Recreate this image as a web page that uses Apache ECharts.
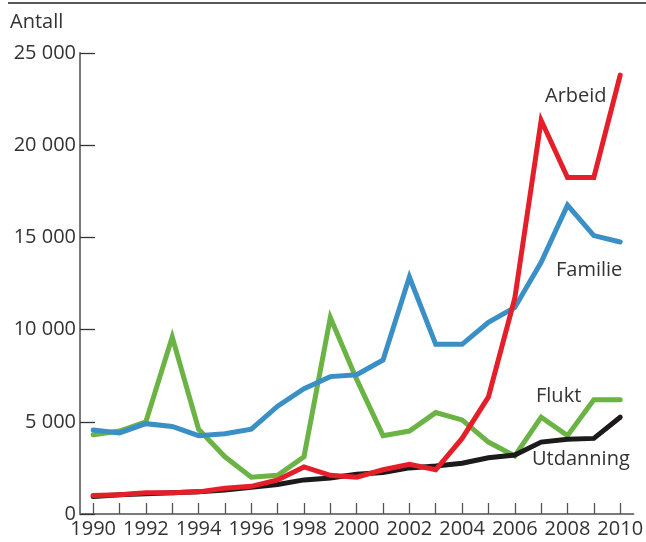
<!DOCTYPE html>
<html>
<head>
<meta charset="utf-8">
<script src="https://cdn.jsdelivr.net/npm/echarts@6/dist/echarts.min.js"></script>
<style>html,body{margin:0;padding:0;background:#fff}#c{width:646px;height:542px}</style>
</head>
<body>
<div id="c"></div>
<script>
var years = ['1990','1991','1992','1993','1994','1995','1996','1997','1998','1999','2000','2001','2002','2003','2004','2005','2006','2007','2008','2009','2010'];
var arbeid    = [1000,1050,1150,1150,1200,1400,1500,1850,2550,2100,2000,2400,2700,2400,4100,6350,11700,21350,18250,18250,23800];
var familie   = [4550,4400,4900,4750,4250,4350,4600,5850,6800,7450,7550,8350,12850,9200,9200,10400,11200,13650,16750,15100,14750];
var flukt     = [4300,4500,5000,9600,4600,3100,2000,2100,3100,10650,7300,4250,4500,5500,5100,3900,3150,5250,4250,6200,6200];
var utdanning = [950,1050,1100,1150,1200,1300,1450,1600,1850,1950,2150,2250,2500,2600,2750,3050,3200,3900,4050,4100,5250];
var yTicks = [0,5000,10000,15000,20000,25000];

var FONT = 'Open Sans';
var FS = 20;
var chart = echarts.init(document.getElementById('c'), null, {renderer:'canvas'});
function fmt(v){ return v === 0 ? '0' : String(v).replace(/\B(?=(\d{3})+(?!\d))/g, ' '); }
function line(name, data, color){
  return {name:name, type:'line', data:data, symbol:'none', smooth:false,
    lineStyle:{color:color, width:5, cap:'round', join:'miter'}, animation:false};
}
var tf = FS + 'px "Open Sans"';
chart.setOption({
  animation:false,
  grid:{left:80, right:10, top:53, bottom:28, containLabel:false},
  xAxis:{type:'category', data:years, boundaryGap:true,
    axisLine:{lineStyle:{color:'#7a7a7a', width:2}},
    axisTick:{show:true, inside:true, length:11, alignWithLabel:true, interval:0, lineStyle:{color:'#555', width:1.3}},
    axisLabel:{interval:1, color:'#333', fontFamily:FONT, fontSize:FS, margin:5}},
  yAxis:{type:'value', min:yTicks[0], max:yTicks[yTicks.length-1], interval:5000,
    splitLine:{show:false},
    axisLine:{show:true, lineStyle:{color:'#7a7a7a', width:2}},
    axisTick:{show:true, inside:true, length:15, lineStyle:{color:'#333', width:1.3}},
    axisLabel:{color:'#333', fontFamily:FONT, fontSize:FS, margin:4, formatter:fmt}},
  series:[
    line('Flukt', flukt, '#6ab344'),
    line('Utdanning', utdanning, '#1c1a1a'),
    line('Familie', familie, '#3a90c6'),
    line('Arbeid', arbeid, '#e51f2a')
  ],
  graphic:[
    {type:'line', shape:{x1:8,y1:3,x2:646,y2:3}, style:{stroke:'#222', lineWidth:1.5}},
    {type:'text', left:10, top:12, style:{text:'Antall', fill:'#333', font:tf}},
    {type:'text', left:545, top:86, style:{text:'Arbeid', fill:'#333', font:tf}},
    {type:'text', left:556, top:260, style:{text:'Familie', fill:'#333', font:tf}},
    {type:'text', left:536, top:386, style:{text:'Flukt', fill:'#333', font:tf}},
    {type:'text', left:532, top:449, style:{text:'Utdanning', fill:'#333', font:tf}}
  ]
});
</script>
</body>
</html>
